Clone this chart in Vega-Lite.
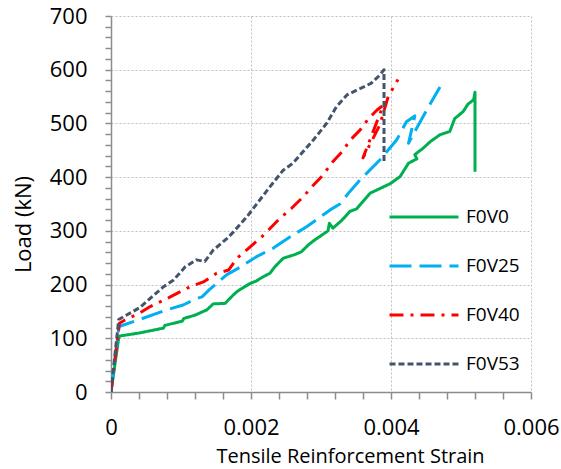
{
  "$schema": "https://vega.github.io/schema/vega-lite/v6.json",
  "width": 420,
  "height": 376,
  "autosize": {"type": "none"},
  "padding": {"left": 111, "top": 16, "right": 30, "bottom": 77},
  "background": "white",
  "config": {
    "view": {"stroke": null},
    "font": "Open Sans"
  },
  "data": {
    "values": [
      {"s": "F0V0", "i": 0, "strain": 0, "load": 0},
      {"s": "F0V0", "i": 1, "strain": 0.000114, "load": 104},
      {"s": "F0V0", "i": 2, "strain": 0.00041, "load": 110},
      {"s": "F0V0", "i": 3, "strain": 0.00075, "load": 119},
      {"s": "F0V0", "i": 4, "strain": 0.00077, "load": 124},
      {"s": "F0V0", "i": 5, "strain": 0.00102, "load": 132},
      {"s": "F0V0", "i": 6, "strain": 0.00104, "load": 137},
      {"s": "F0V0", "i": 7, "strain": 0.0012, "load": 143},
      {"s": "F0V0", "i": 8, "strain": 0.00137, "load": 153},
      {"s": "F0V0", "i": 9, "strain": 0.00146, "load": 164},
      {"s": "F0V0", "i": 10, "strain": 0.00163, "load": 165},
      {"s": "F0V0", "i": 11, "strain": 0.00175, "load": 181},
      {"s": "F0V0", "i": 12, "strain": 0.0018, "load": 187},
      {"s": "F0V0", "i": 13, "strain": 0.00191, "load": 196},
      {"s": "F0V0", "i": 14, "strain": 0.00199, "load": 202},
      {"s": "F0V0", "i": 15, "strain": 0.00208, "load": 207},
      {"s": "F0V0", "i": 16, "strain": 0.00218, "load": 215},
      {"s": "F0V0", "i": 17, "strain": 0.00227, "load": 221},
      {"s": "F0V0", "i": 18, "strain": 0.00234, "load": 233},
      {"s": "F0V0", "i": 19, "strain": 0.00246, "load": 249},
      {"s": "F0V0", "i": 20, "strain": 0.00263, "load": 256},
      {"s": "F0V0", "i": 21, "strain": 0.00272, "load": 261},
      {"s": "F0V0", "i": 22, "strain": 0.00282, "load": 274},
      {"s": "F0V0", "i": 23, "strain": 0.00291, "load": 283},
      {"s": "F0V0", "i": 24, "strain": 0.0031, "load": 300},
      {"s": "F0V0", "i": 25, "strain": 0.00312, "load": 314},
      {"s": "F0V0", "i": 26, "strain": 0.00317, "load": 305},
      {"s": "F0V0", "i": 27, "strain": 0.0033, "load": 320},
      {"s": "F0V0", "i": 28, "strain": 0.00341, "load": 336},
      {"s": "F0V0", "i": 29, "strain": 0.00351, "load": 341},
      {"s": "F0V0", "i": 30, "strain": 0.0037, "load": 370},
      {"s": "F0V0", "i": 31, "strain": 0.00399, "load": 388},
      {"s": "F0V0", "i": 32, "strain": 0.00413, "load": 401},
      {"s": "F0V0", "i": 33, "strain": 0.00425, "load": 426},
      {"s": "F0V0", "i": 34, "strain": 0.00437, "load": 434},
      {"s": "F0V0", "i": 35, "strain": 0.00434, "load": 442},
      {"s": "F0V0", "i": 36, "strain": 0.00446, "load": 454},
      {"s": "F0V0", "i": 37, "strain": 0.00456, "load": 466},
      {"s": "F0V0", "i": 38, "strain": 0.0047, "load": 479},
      {"s": "F0V0", "i": 39, "strain": 0.00484, "load": 485},
      {"s": "F0V0", "i": 40, "strain": 0.00491, "load": 509},
      {"s": "F0V0", "i": 41, "strain": 0.00503, "load": 522},
      {"s": "F0V0", "i": 42, "strain": 0.0051, "load": 536},
      {"s": "F0V0", "i": 43, "strain": 0.00518, "load": 544},
      {"s": "F0V0", "i": 44, "strain": 0.0052, "load": 558},
      {"s": "F0V0", "i": 45, "strain": 0.0052, "load": 410},

      {"s": "F0V25", "i": 0, "strain": 0, "load": 0},
      {"s": "F0V25", "i": 1, "strain": 0.000114, "load": 122},
      {"s": "F0V25", "i": 2, "strain": 0.00041, "load": 135},
      {"s": "F0V25", "i": 3, "strain": 0.0008, "load": 153},
      {"s": "F0V25", "i": 4, "strain": 0.00103, "load": 162},
      {"s": "F0V25", "i": 5, "strain": 0.00122, "load": 174},
      {"s": "F0V25", "i": 6, "strain": 0.0013, "load": 177},
      {"s": "F0V25", "i": 7, "strain": 0.00141, "load": 191},
      {"s": "F0V25", "i": 8, "strain": 0.00165, "load": 218},
      {"s": "F0V25", "i": 9, "strain": 0.00184, "load": 232},
      {"s": "F0V25", "i": 10, "strain": 0.00208, "load": 252},
      {"s": "F0V25", "i": 11, "strain": 0.00232, "load": 268},
      {"s": "F0V25", "i": 12, "strain": 0.00256, "load": 289},
      {"s": "F0V25", "i": 13, "strain": 0.0028, "load": 308},
      {"s": "F0V25", "i": 14, "strain": 0.00313, "load": 339},
      {"s": "F0V25", "i": 15, "strain": 0.00327, "load": 350},
      {"s": "F0V25", "i": 16, "strain": 0.00341, "load": 373},
      {"s": "F0V25", "i": 17, "strain": 0.00356, "load": 395},
      {"s": "F0V25", "i": 18, "strain": 0.00384, "load": 432},
      {"s": "F0V25", "i": 19, "strain": 0.00408, "load": 469},
      {"s": "F0V25", "i": 20, "strain": 0.00422, "load": 503},
      {"s": "F0V25", "i": 21, "strain": 0.00434, "load": 514},
      {"s": "F0V25", "i": 22, "strain": 0.00425, "load": 463},
      {"s": "F0V25", "i": 23, "strain": 0.00437, "load": 492},
      {"s": "F0V25", "i": 24, "strain": 0.00451, "load": 525},
      {"s": "F0V25", "i": 25, "strain": 0.0047, "load": 568},

      {"s": "F0V40", "i": 0, "strain": 0, "load": 0},
      {"s": "F0V40", "i": 1, "strain": 0.00012, "load": 128},
      {"s": "F0V40", "i": 2, "strain": 0.0002, "load": 134},
      {"s": "F0V40", "i": 3, "strain": 0.00041, "load": 147},
      {"s": "F0V40", "i": 4, "strain": 0.00056, "load": 159},
      {"s": "F0V40", "i": 5, "strain": 0.0008, "load": 174},
      {"s": "F0V40", "i": 6, "strain": 0.00113, "load": 196},
      {"s": "F0V40", "i": 7, "strain": 0.00132, "load": 205},
      {"s": "F0V40", "i": 8, "strain": 0.00151, "load": 221},
      {"s": "F0V40", "i": 9, "strain": 0.00168, "load": 227},
      {"s": "F0V40", "i": 10, "strain": 0.0018, "load": 249},
      {"s": "F0V40", "i": 11, "strain": 0.00196, "load": 267},
      {"s": "F0V40", "i": 12, "strain": 0.00218, "load": 292},
      {"s": "F0V40", "i": 13, "strain": 0.00241, "load": 323},
      {"s": "F0V40", "i": 14, "strain": 0.00258, "load": 342},
      {"s": "F0V40", "i": 15, "strain": 0.00275, "load": 364},
      {"s": "F0V40", "i": 16, "strain": 0.00289, "load": 385},
      {"s": "F0V40", "i": 17, "strain": 0.00303, "load": 404},
      {"s": "F0V40", "i": 18, "strain": 0.00315, "load": 426},
      {"s": "F0V40", "i": 19, "strain": 0.00332, "load": 450},
      {"s": "F0V40", "i": 20, "strain": 0.00341, "load": 468},
      {"s": "F0V40", "i": 21, "strain": 0.00356, "load": 488},
      {"s": "F0V40", "i": 22, "strain": 0.00368, "load": 509},
      {"s": "F0V40", "i": 23, "strain": 0.0038, "load": 525},
      {"s": "F0V40", "i": 24, "strain": 0.00389, "load": 534},
      {"s": "F0V40", "i": 25, "strain": 0.0036, "load": 436},
      {"s": "F0V40", "i": 26, "strain": 0.00372, "load": 466},
      {"s": "F0V40", "i": 27, "strain": 0.00384, "load": 497},
      {"s": "F0V40", "i": 28, "strain": 0.00396, "load": 550},
      {"s": "F0V40", "i": 29, "strain": 0.0041, "load": 582},

      {"s": "F0V53", "i": 0, "strain": 0, "load": 0},
      {"s": "F0V53", "i": 1, "strain": 0.00011, "load": 135},
      {"s": "F0V53", "i": 2, "strain": 0.00041, "load": 157},
      {"s": "F0V53", "i": 3, "strain": 0.00075, "load": 196},
      {"s": "F0V53", "i": 4, "strain": 0.00089, "load": 208},
      {"s": "F0V53", "i": 5, "strain": 0.00106, "load": 233},
      {"s": "F0V53", "i": 6, "strain": 0.00122, "load": 246},
      {"s": "F0V53", "i": 7, "strain": 0.00134, "load": 243},
      {"s": "F0V53", "i": 8, "strain": 0.00146, "load": 264},
      {"s": "F0V53", "i": 9, "strain": 0.00165, "load": 285},
      {"s": "F0V53", "i": 10, "strain": 0.00175, "load": 298},
      {"s": "F0V53", "i": 11, "strain": 0.00194, "load": 326},
      {"s": "F0V53", "i": 12, "strain": 0.00227, "load": 382},
      {"s": "F0V53", "i": 13, "strain": 0.00246, "load": 413},
      {"s": "F0V53", "i": 14, "strain": 0.0026, "load": 426},
      {"s": "F0V53", "i": 15, "strain": 0.00289, "load": 469},
      {"s": "F0V53", "i": 16, "strain": 0.00308, "load": 500},
      {"s": "F0V53", "i": 17, "strain": 0.00322, "load": 531},
      {"s": "F0V53", "i": 18, "strain": 0.00337, "load": 553},
      {"s": "F0V53", "i": 19, "strain": 0.00356, "load": 565},
      {"s": "F0V53", "i": 20, "strain": 0.00372, "load": 575},
      {"s": "F0V53", "i": 21, "strain": 0.00384, "load": 590},
      {"s": "F0V53", "i": 22, "strain": 0.0039, "load": 600},
      {"s": "F0V53", "i": 23, "strain": 0.0039, "load": 429}
    ]
  },
  "mark": {"type": "line", "strokeWidth": 3, "strokeJoin": "round", "clip": true},
  "encoding": {
    "x": {
      "field": "strain",
      "type": "quantitative",
      "scale": {"domain": [0, 0.006], "nice": false, "zero": true},
      "axis": {
        "title": "Tensile Reinforcement Strain",
        "titleFont": "Open Sans",
        "titleFontSize": 20,
        "titleFontWeight": "normal",
        "titleColor": "#000000",
        "titleX": 239,
        "titleY": 70,
        "titleBaseline": "alphabetic",
        "titleAnchor": null,
        "values": [0, 0.0004, 0.0008, 0.0012, 0.0016, 0.002, 0.0024, 0.0028, 0.0032, 0.0036, 0.004, 0.0044, 0.0048, 0.0052, 0.0056, 0.006],
        "labelExpr": "abs(datum.value*500 - round(datum.value*500)) < 0.000001 ? (datum.value == 0 ? '0' : format(datum.value, '.3f')) : ''",
        "labelOverlap": false,
        "labelFlush": false,
        "labelFont": "Open Sans",
        "labelFontSize": 22,
        "labelColor": "#000000",
        "labelPadding": 18,
        "domainColor": "#8c8c8c",
        "domainWidth": 1.5,
        "tickColor": "#8c8c8c",
        "tickWidth": 1.5,
        "tickSize": 7,
        "grid": true,
        "gridColor": "#bfbfbf",
        "gridDash": [2, 2],
        "gridWidth": 1,
        "gridOpacity": {"condition": {"test": "abs(datum.value*500 - round(datum.value*500)) < 0.000001 && datum.value > 0", "value": 1}, "value": 0}
      }
    },
    "y": {
      "field": "load",
      "type": "quantitative",
      "scale": {"domain": [0, 700], "nice": false},
      "axis": {
        "title": "Load (kN)",
        "titleFont": "Open Sans",
        "titleFontSize": 22,
        "titleFontWeight": "normal",
        "titleColor": "#000000",
        "titleX": -88,
        "titleY": 208,
        "titleAngle": -90,
        "titleAlign": "center",
        "titleBaseline": "middle",
        "titleAnchor": null,
        "values": [0, 20, 40, 60, 80, 100, 120, 140, 160, 180, 200, 220, 240, 260, 280, 300, 320, 340, 360, 380, 400, 420, 440, 460, 480, 500, 520, 540, 560, 580, 600, 620, 640, 660, 680, 700],
        "labelExpr": "datum.value % 100 === 0 ? datum.label : ''",
        "labelOverlap": false,
        "labelFlush": false,
        "labelFont": "Open Sans",
        "labelFontSize": 22,
        "labelColor": "#000000",
        "labelPadding": 18,
        "domainColor": "#8c8c8c",
        "domainWidth": 1.5,
        "tickColor": "#8c8c8c",
        "tickWidth": 1.5,
        "tickSize": 6,
        "grid": true,
        "gridColor": "#bfbfbf",
        "gridDash": [2, 2],
        "gridWidth": 1,
        "gridOpacity": {"condition": {"test": "datum.value % 100 === 0 && datum.value > 0", "value": 1}, "value": 0}
      }
    },
    "order": {"field": "i", "type": "quantitative"},
    "color": {
      "field": "s",
      "type": "nominal",
      "scale": {"domain": ["F0V0", "F0V25", "F0V40", "F0V53"], "range": ["#00b050", "#00b0f0", "#ff0000", "#44546a"]},
      "legend": {
        "orient": "none", "legendX": 277, "legendY": 165, "title": null,
        "symbolType": "stroke", "symbolSize": 4761, "symbolStrokeWidth": 3,
        "labelFont": "Open Sans", "labelFontSize": 19, "labelColor": "#000000",
        "labelOffset": 6, "rowPadding": 3, "padding": 0
      }
    },
    "strokeDash": {
      "field": "s",
      "type": "nominal",
      "scale": {"domain": ["F0V0", "F0V25", "F0V40", "F0V53"], "range": [[1, 0], [22, 8], [14, 7, 3, 7], [6, 3]]},
      "legend": {
        "orient": "none", "legendX": 277, "legendY": 165, "title": null,
        "symbolType": "stroke", "symbolSize": 4761, "symbolStrokeWidth": 3,
        "labelFont": "Open Sans", "labelFontSize": 19, "labelColor": "#000000",
        "labelOffset": 6, "rowPadding": 3, "padding": 0
      }
    }
  }
}
